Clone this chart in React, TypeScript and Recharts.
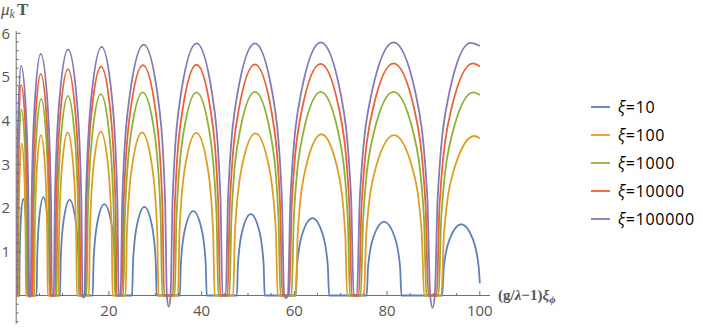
import React from 'react';
import { LineChart, Line, XAxis, YAxis, ReferenceLine, ReferenceDot } from 'recharts';

type Pt = [number, number];

const seriesNames = ['ξ=10', 'ξ=100', 'ξ=1000', 'ξ=10000', 'ξ=100000'];
const seriesColors = ['#5E81B5', '#E19C24', '#8FB032', '#EB6235', '#8778B3'];

const xi10: Pt[] = [
  [0, 0],
  [0.67, 0], [0.74, 0.86], [1.01, 1.77], [1.53, 2.21], [2.05, 1.77], [2.32, 0.86], [2.39, 0],
  [4.42, 0], [4.53, 0.88], [4.99, 1.8], [5.86, 2.25], [6.72, 1.8], [7.18, 0.88], [7.29, 0],
  [9.44, 0], [9.61, 0.85], [10.27, 1.75], [11.52, 2.19], [12.77, 1.75], [13.43, 0.85], [13.6, 0],
  [16.5, 0], [16.7, 0.82], [17.5, 1.67], [19.0, 2.09], [20.5, 1.67], [21.3, 0.82], [21.5, 0],
  [25.0, 0], [25.21, 0.79], [26.06, 1.62], [27.65, 2.03], [29.24, 1.62], [30.09, 0.79], [30.3, 0],
  [35.3, 0], [35.53, 0.75], [36.46, 1.54], [38.2, 1.93], [39.94, 1.54], [40.87, 0.75], [41.1, 0],
  [47.6, 0], [47.84, 0.73], [48.8, 1.49], [50.6, 1.86], [52.4, 1.49], [53.36, 0.73], [53.6, 0],
  [60.3, 0], [60.59, 0.69], [61.74, 1.42], [63.9, 1.77], [66.06, 1.42], [67.21, 0.69], [67.5, 0],
  [75.6, 0], [75.9, 0.66], [77.1, 1.35], [79.35, 1.69], [81.6, 1.35], [82.8, 0.66], [83.1, 0],
  [91.9, 0], [92.23, 0.64], [93.54, 1.3], [96.0, 1.63], [98.46, 1.3], [99.77, 0.64], [100, 0.28],
];

const xi100: Pt[] = [
  [0, 0],
  [0.45, 0], [0.51, 1.36], [0.75, 2.78], [1.2, 3.48], [1.74, 2.78], [2.03, 1.36], [2.1, 0],
  [3.9, 0], [4.02, 1.43], [4.48, 2.94], [5.35, 3.67], [6.22, 2.94], [6.68, 1.43], [6.8, 0],
  [9.1, 0], [9.26, 1.45], [9.9, 2.98], [11.1, 3.73], [12.3, 2.98], [12.94, 1.45], [13.1, 0],
  [15.7, 0], [15.9, 1.46], [16.72, 3.0], [18.25, 3.75], [19.78, 3.0], [20.6, 1.46], [20.8, 0],
  [23.6, 0], [23.88, 1.45], [25.02, 2.98], [27.15, 3.73], [29.28, 2.98], [30.42, 1.45], [30.7, 0],
  [34.9, 0], [35.22, 1.45], [36.48, 2.98], [38.85, 3.72], [41.22, 2.98], [42.48, 1.45], [42.8, 0],
  [46.8, 0], [47.18, 1.45], [48.72, 2.97], [51.6, 3.71], [54.48, 2.97], [56.02, 1.45], [56.4, 0],
  [60.3, 0], [60.74, 1.44], [62.52, 2.95], [65.85, 3.69], [69.18, 2.95], [70.96, 1.44], [71.4, 0],
  [75.0, 0], [75.52, 1.43], [77.6, 2.94], [81.5, 3.67], [85.4, 2.94], [87.48, 1.43], [88.0, 0],
  [91.7, 0], [92.27, 1.42], [94.54, 2.92], [98.8, 3.65], [100, 3.6],
];

const xi1000: Pt[] = [
  [0, 0],
  [0.3, 0], [0.36, 1.66], [0.62, 3.41], [1.1, 4.26], [1.88, 3.41], [2.3, 1.66], [2.4, 0],
  [3.6, 0], [3.74, 1.76], [4.32, 3.6], [5.4, 4.5], [6.48, 3.6], [7.06, 1.76], [7.2, 0],
  [8.7, 0], [8.9, 1.78], [9.68, 3.66], [11.15, 4.57], [12.62, 3.66], [13.4, 1.78], [13.6, 0],
  [15.2, 0], [15.44, 1.8], [16.42, 3.69], [18.25, 4.61], [20.08, 3.69], [21.06, 1.8], [21.3, 0],
  [23.1, 0], [23.44, 1.81], [24.78, 3.72], [27.3, 4.65], [29.82, 3.72], [31.16, 1.81], [31.5, 0],
  [34.2, 0], [34.58, 1.81], [36.08, 3.72], [38.9, 4.65], [41.72, 3.72], [43.22, 1.81], [43.6, 0],
  [46.0, 0], [46.44, 1.82], [48.2, 3.73], [51.5, 4.66], [54.8, 3.73], [56.56, 1.82], [57.0, 0],
  [59.4, 0], [59.9, 1.82], [61.92, 3.73], [65.7, 4.66], [69.48, 3.73], [71.5, 1.82], [72.0, 0],
  [74.3, 0], [74.87, 1.82], [77.14, 3.73], [81.4, 4.66], [85.66, 3.73], [87.93, 1.82], [88.5, 0],
  [91.1, 0], [91.7, 1.81], [94.1, 3.72], [98.6, 4.65], [100, 4.59],
];

const xi10000: Pt[] = [
  [0, 0],
  [0.2, 0], [0.27, 1.88], [0.54, 3.86], [1.05, 4.82], [1.98, 3.86], [2.48, 1.88], [2.6, 0],
  [3.4, 0], [3.55, 1.98], [4.16, 4.06], [5.3, 5.07], [6.56, 4.06], [7.23, 1.98], [7.4, 0],
  [8.4, 0], [8.62, 2.02], [9.5, 4.14], [11.15, 5.18], [12.8, 4.14], [13.68, 2.02], [13.9, 0],
  [14.9, 0], [15.17, 2.04], [16.26, 4.19], [18.3, 5.24], [20.34, 4.19], [21.43, 2.04], [21.7, 0],
  [22.8, 0], [23.16, 2.06], [24.62, 4.22], [27.35, 5.27], [30.08, 4.22], [31.54, 2.06], [31.9, 0],
  [33.8, 0], [34.21, 2.06], [35.84, 4.22], [38.9, 5.28], [41.96, 4.22], [43.59, 2.06], [44.0, 0],
  [45.6, 0], [46.07, 2.06], [47.96, 4.23], [51.5, 5.29], [55.04, 4.23], [56.93, 2.06], [57.4, 0],
  [58.9, 0], [59.44, 2.07], [61.6, 4.24], [65.65, 5.3], [69.7, 4.24], [71.86, 2.07], [72.4, 0],
  [73.9, 0], [74.5, 2.07], [76.9, 4.25], [81.4, 5.31], [85.9, 4.25], [88.3, 2.07], [88.9, 0],
  [90.7, 0], [91.32, 2.07], [93.82, 4.25], [98.5, 5.31], [100, 5.24],
];

const xi100000: Pt[] = [
  [0, 0],
  [0.1, 0], [0.18, 2.05], [0.48, 4.21], [1.05, 5.26], [2.1, 4.21], [2.66, 2.05], [2.8, 0],
  [2.97, -0.03],
  [3.15, 0], [3.32, 2.16], [4.01, 4.42], [5.3, 5.53], [6.74, 4.42], [7.51, 2.16], [7.7, 0],
  [8.1, 0], [8.35, 2.2], [9.34, 4.5], [11.2, 5.63], [13.06, 4.5], [14.05, 2.2], [14.3, 0],
  [14.52, -0.05],
  [14.75, 0], [15.04, 2.22], [16.22, 4.55], [18.43, 5.69], [20.64, 4.55], [21.81, 2.22], [22.1, 0],
  [22.5, 0], [22.9, 2.24], [24.5, 4.59], [27.5, 5.74], [30.5, 4.59], [32.1, 2.24], [32.5, 0],
  [32.9, -0.26],
  [33.3, 0], [33.75, 2.25], [35.54, 4.62], [38.9, 5.77], [42.26, 4.62], [44.05, 2.25], [44.5, 0],
  [45.2, 0], [45.7, 2.25], [47.72, 4.62], [51.5, 5.77], [55.28, 4.62], [57.3, 2.25], [57.8, 0],
  [58.2, -0.06],
  [58.6, 0], [59.17, 2.26], [61.44, 4.63], [65.7, 5.79], [69.96, 4.63], [72.23, 2.26], [72.8, 0],
  [73.5, 0], [74.13, 2.26], [76.66, 4.63], [81.4, 5.79], [86.14, 4.63], [88.67, 2.26], [89.3, 0],
  [89.8, -0.28],
  [90.3, 0], [90.92, 2.25], [93.38, 4.62], [98.0, 5.78], [100, 5.71],
];

const seriesData: Pt[][] = [xi10, xi100, xi1000, xi10000, xi100000];

const xTicks = [5, 10, 15, 20, 25, 30, 35, 40, 45, 50, 55, 60, 65, 70, 75, 80, 85, 90, 95, 100];
const xTickLabels = [20, 40, 60, 80, 100];
const yTicks = [
  -0.6, -0.4, -0.2, 0.2, 0.4, 0.6, 0.8, 1, 1.2, 1.4, 1.6, 1.8, 2, 2.2, 2.4, 2.6, 2.8, 3,
  3.2, 3.4, 3.6, 3.8, 4, 4.2, 4.4, 4.6, 4.8, 5, 5.2, 5.4, 5.6, 5.8, 6,
];
const yTickLabels = [1, 2, 3, 4, 5, 6];

const AXIS = '#6f6f6f';
const TICK_TEXT = '#555555';
const TICK_FONT = "'Open Sans', 'DejaVu Sans', sans-serif";

const makeXTick = (v: number) => (props: any) => {
  const { cx, cy } = props;
  const major = xTickLabels.includes(v);
  return (
    <g>
      <line x1={cx} x2={cx} y1={cy} y2={cy - (major ? 4.5 : 2.5)} stroke={AXIS} strokeWidth={1} />
      {major && (
        <text x={cx} y={cy + 20.5} textAnchor="middle" fill={TICK_TEXT} fontFamily={TICK_FONT} fontSize={15}>
          {v}
        </text>
      )}
    </g>
  );
};

const makeYTick = (v: number) => (props: any) => {
  const { cx, cy } = props;
  const major = yTickLabels.includes(v);
  return (
    <g>
      <line x1={cx} x2={cx + (major ? 4.5 : 2.5)} y1={cy} y2={cy} stroke={AXIS} strokeWidth={1} />
      {major && (
        <text x={cx - 6} y={cy + 5.3} textAnchor="end" fill={TICK_TEXT} fontFamily={TICK_FONT} fontSize={15}>
          {v}
        </text>
      )}
    </g>
  );
};

export default function App() {
  return (
    <div style={{ position: 'absolute', left: 0, top: 0, width: 703, height: 328, background: '#fff' }}>
      <LineChart width={703} height={328} margin={{ top: 31.1, right: 213, bottom: 4.1, left: 16.2 }}>
        <XAxis dataKey="x" type="number" domain={[0, 102.2]} allowDataOverflow hide />
        <YAxis type="number" domain={[-0.65, 6.05]} allowDataOverflow hide />
        <ReferenceLine y={0} stroke={AXIS} strokeWidth={1} />
        <ReferenceLine x={0} stroke={AXIS} strokeWidth={1} />
        {xTicks.map((v) => (
          <ReferenceDot key={'x' + v} x={v} y={0} r={0} shape={makeXTick(v)} />
        ))}
        {yTicks.map((v) => (
          <ReferenceDot key={'y' + v} x={0} y={v} r={0} shape={makeYTick(v)} />
        ))}
        {seriesData.map((d, i) => (
          <Line
            key={seriesNames[i]}
            data={d.map(([x, y]) => ({ x, y }))}
            dataKey="y"
            name={seriesNames[i]}
            type="monotone"
            stroke={seriesColors[i]}
            strokeWidth={1.8}
            dot={false}
            activeDot={false}
            isAnimationActive={false}
          />
        ))}
      </LineChart>
      <div style={{ position: 'absolute', left: 589, top: 93, fontFamily: TICK_FONT, fontSize: 16, color: '#000' }}>
        {seriesNames.map((n, i) => (
          <div key={n} style={{ height: 28, display: 'flex', alignItems: 'center', whiteSpace: 'nowrap' }}>
            <svg width={22} height={4} style={{ marginRight: 7 }}>
              <line x1={2} x2={21} y1={2} y2={2} stroke={seriesColors[i]} strokeWidth={1.8} />
            </svg>
            <span style={{ letterSpacing: 0.7 }}>
              <span style={{ fontStyle: 'italic' }}>{n.slice(0, 1)}</span>
              {n.slice(1)}
            </span>
          </div>
        ))}
      </div>
      <div
        style={{
          position: 'absolute', left: 1, top: 0, fontFamily: "'Liberation Serif', serif",
          fontSize: 17, color: '#555', whiteSpace: 'nowrap', lineHeight: '20px',
        }}
      >
        <span style={{ fontStyle: 'italic' }}>μ</span>
        <sub style={{ fontStyle: 'italic', fontSize: 12, verticalAlign: '-3px' }}>k</sub>
        <span style={{ fontWeight: 'bold', marginLeft: 2 }}>T</span>
      </div>
      <div
        style={{
          position: 'absolute', left: 498, top: 285, fontFamily: "'Liberation Serif', serif",
          fontSize: 15, color: '#555', whiteSpace: 'nowrap', lineHeight: '20px', fontWeight: 'bold',
        }}
      >
        (g/<span style={{ fontStyle: 'italic' }}>λ</span>−1)<span style={{ fontStyle: 'italic' }}>ξ</span>
        <sub style={{ fontStyle: 'italic', fontSize: 11, verticalAlign: '-3px' }}>ϕ</sub>
      </div>
    </div>
  );
}
